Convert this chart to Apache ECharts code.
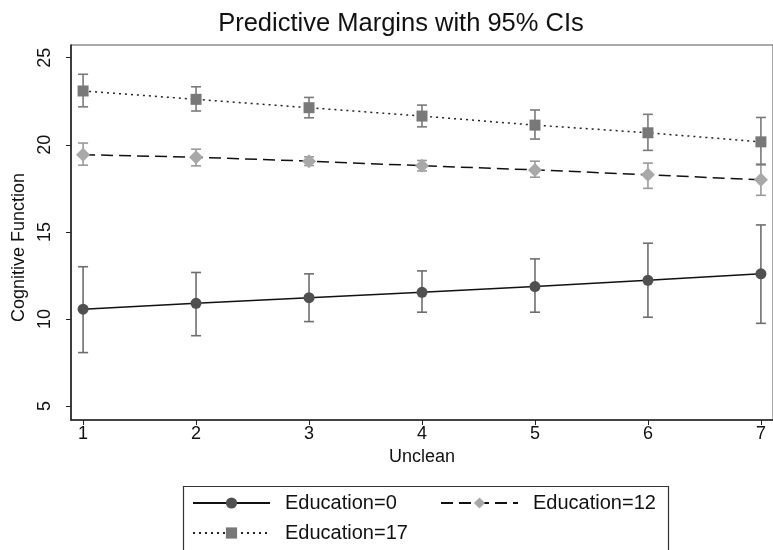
<!DOCTYPE html>
<html>
<head>
<meta charset="utf-8">
<script src="https://cdn.jsdelivr.net/npm/echarts@6/dist/echarts.min.js"></script>
<style>html,body{margin:0;padding:0;background:#fff;}#c{width:773px;height:550px;}</style>
</head>
<body>
<div id="c"></div>
<script>
const unclean = [1, 2, 3, 4, 5, 6, 7];
const xTicks = [1, 2, 3, 4, 5, 6, 7];
const yTicks = [5, 10, 15, 20, 25];

const edu0Margin = [10.56, 10.90, 11.22, 11.53, 11.86, 12.22, 12.59];
const edu0Lo     = [8.07, 9.04, 9.85, 10.39, 10.39, 10.10, 9.75];
const edu0Hi     = [13.00, 12.67, 12.59, 12.76, 13.45, 14.35, 15.40];

const edu12Margin = [19.43, 19.29, 19.06, 18.80, 18.56, 18.28, 17.99];
const edu12Lo     = [18.83, 18.79, 18.81, 18.50, 18.14, 17.50, 17.10];
const edu12Hi     = [20.10, 19.75, 19.31, 19.10, 19.06, 18.95, 18.90];

const edu17Margin = [23.09, 22.61, 22.13, 21.65, 21.13, 20.69, 20.17];
const edu17Lo     = [22.18, 21.94, 21.55, 21.03, 20.33, 19.68, 18.85];
const edu17Hi     = [24.05, 23.33, 22.72, 22.28, 22.00, 21.75, 21.57];

const names = ['Education=0', 'Education=12', 'Education=17'];

const FONT = '"Liberation Sans", Arial, sans-serif';
const diamond = 'path://M0,-1 L1,0 L0,1 L-1,0 Z';

function pairs(xs, ys) { return xs.map((x, i) => [x, ys[i]]); }
function ciData(xs, lo, hi) { return xs.map((x, i) => [x, lo[i], hi[i]]); }

function ciSeries(data, color) {
  return {
    type: 'custom',
    z: 1,
    silent: true,
    data: data,
    encode: { x: 0, y: [1, 2] },
    renderItem: function (params, api) {
      const x = api.value(0);
      const lo = api.coord([x, api.value(1)]);
      const hi = api.coord([x, api.value(2)]);
      const hw = 5;
      const style = { stroke: color, lineWidth: 1.6, fill: null };
      return {
        type: 'group',
        children: [
          { type: 'line', shape: { x1: lo[0], y1: lo[1], x2: hi[0], y2: hi[1] }, style: style },
          { type: 'line', shape: { x1: lo[0] - hw, y1: lo[1], x2: lo[0] + hw, y2: lo[1] }, style: style },
          { type: 'line', shape: { x1: hi[0] - hw, y1: hi[1], x2: hi[0] + hw, y2: hi[1] }, style: style }
        ]
      };
    }
  };
}

function legendFor(name, left, top) {
  return {
    data: [name],
    left: left, top: top,
    padding: 0,
    itemWidth: 77, itemHeight: 14,
    selectedMode: false,
    textStyle: { fontFamily: FONT, fontSize: 20, color: '#111', padding: [0, 0, 0, 10], lineHeight: 22 }
  };
}

const chart = echarts.init(document.getElementById('c'), null, { renderer: 'canvas' });
chart.setOption({
  animation: false,
  backgroundColor: '#fff',
  title: {
    text: 'Predictive Margins with 95% CIs',
    left: 396, top: 6, textAlign: 'center',
    textStyle: { fontFamily: FONT, fontSize: 25.5, fontWeight: 'normal', color: '#111' }
  },
  graphic: [{
    type: 'rect', z: -1,
    shape: { x: 183.5, y: 486.5, width: 485, height: 80 },
    style: { fill: '#fff', stroke: '#333', lineWidth: 1.2 }
  }],
  legend: [
    legendFor(names[0], 192, 492),
    legendFor(names[1], 440, 492),
    legendFor(names[2], 192, 522)
  ],
  grid: {
    left: 71, top: 45, width: 712, height: 375,
    show: true, borderColor: '#555', borderWidth: 1, backgroundColor: '#fff'
  },
  xAxis: {
    type: 'value', min: 0.893, max: 7.107,
    name: 'Unclean', nameLocation: 'middle', nameGap: 23,
    nameTextStyle: { fontFamily: FONT, fontSize: 18, color: '#111' },
    axisLine: { show: true, lineStyle: { color: '#222', width: 1.6 } },
    axisTick: { show: true, length: 5, customValues: xTicks, lineStyle: { color: '#222' } },
    axisLabel: { customValues: xTicks, fontFamily: FONT, fontSize: 18, color: '#111', margin: 5 },
    splitLine: { show: false }
  },
  yAxis: {
    type: 'value', min: 4.2, max: 25.73,
    name: 'Cognitive Function', nameLocation: 'middle', nameGap: 42, nameRotate: 90,
    nameTextStyle: { fontFamily: FONT, fontSize: 18, color: '#111', padding: [0, 30, 0, 0] },
    axisLine: { show: true, lineStyle: { color: '#222', width: 1.6 } },
    axisTick: { show: true, length: 5, customValues: yTicks, lineStyle: { color: '#222' } },
    axisLabel: { customValues: yTicks, rotate: 90, fontFamily: FONT, fontSize: 18, color: '#111', margin: 17 },
    splitLine: { show: false }
  },
  series: [
    ciSeries(ciData(unclean, edu0Lo, edu0Hi), '#6e6e6e'),
    ciSeries(ciData(unclean, edu12Lo, edu12Hi), '#9a9a9a'),
    ciSeries(ciData(unclean, edu17Lo, edu17Hi), '#7a7a7a'),
    {
      name: names[0], type: 'line', z: 3, data: pairs(unclean, edu0Margin),
      symbol: 'circle', symbolSize: 11,
      itemStyle: { color: '#505050' },
      lineStyle: { color: '#111', width: 1.5, type: 'solid' }
    },
    {
      name: names[1], type: 'line', z: 3, data: pairs(unclean, edu12Margin),
      symbol: diamond, symbolSize: 14,
      itemStyle: { color: '#a8a8a8' },
      lineStyle: { color: '#111', width: 1.5, type: [12, 6] }
    },
    {
      name: names[2], type: 'line', z: 3, data: pairs(unclean, edu17Margin),
      symbol: 'rect', symbolSize: 11,
      itemStyle: { color: '#787878' },
      lineStyle: { color: '#222', width: 1.5, type: [2, 4] }
    }
  ]
});
</script>
</body>
</html>
